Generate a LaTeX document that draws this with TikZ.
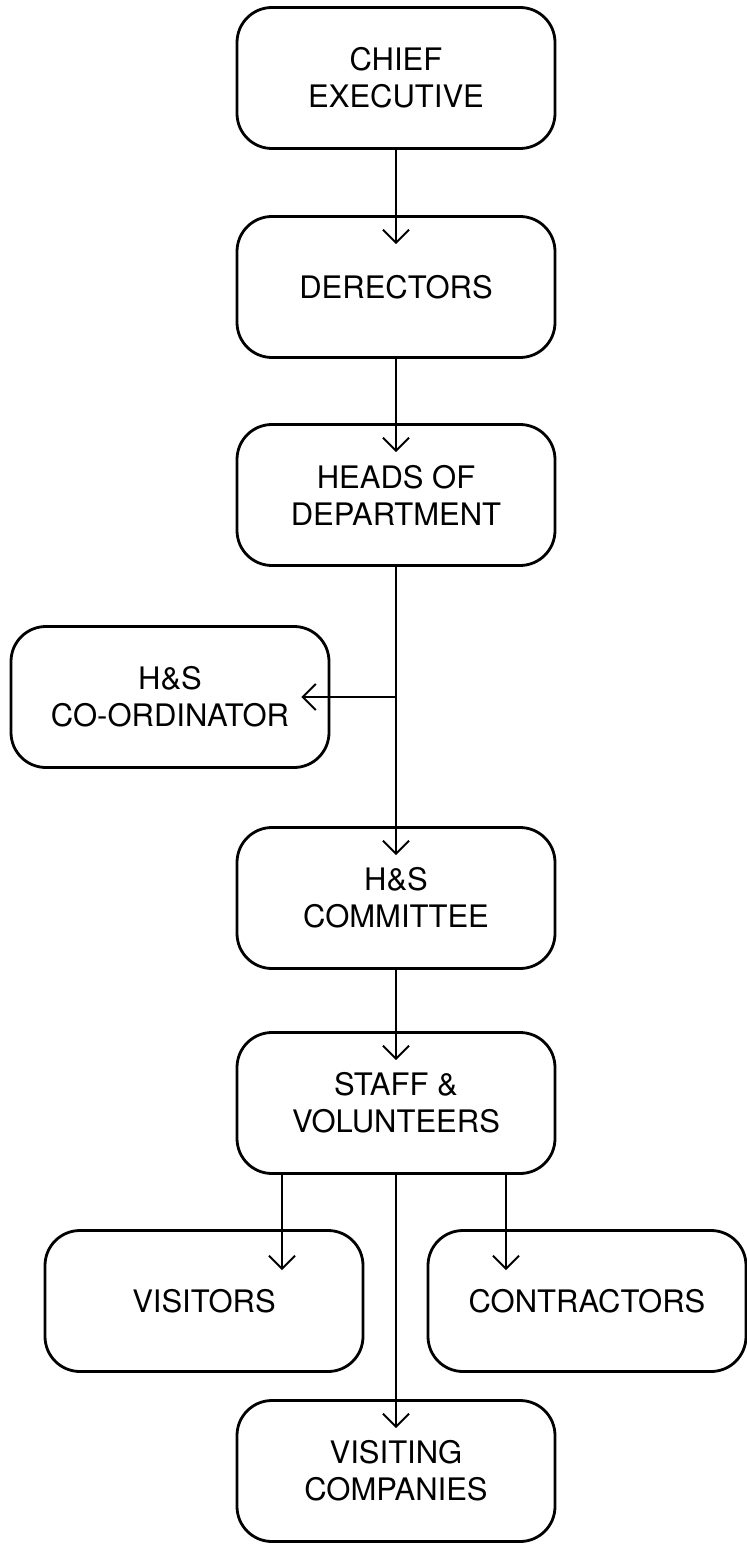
\documentclass[tikz,border=0pt]{standalone}
\usepackage{fontspec}
\setmainfont{TeX Gyre Heros}
\usetikzlibrary{arrows.meta,math}

\begin{document}
\begin{tikzpicture}[x=0.5pt,y=-0.5pt,
    box/.style={draw,line width=1.4pt,rounded corners=17.5pt,minimum width=159pt,minimum height=70.5pt,inner sep=0pt,align=center,font=\fontsize{15.5}{18.5}\selectfont},
    arr/.style={-{Straight Barb[length=6.5pt,width=13pt]},line width=1pt}]
  \tikzmath{\mx = 396; \dep = -14.5; \depb = -20.5;}
  \useasboundingbox (0,0) rectangle (747,1550);
  \node[box] (chief) at (\mx,78) {CHIEF\\EXECUTIVE};
  \node[box] (dir) at (\mx,287) {DERECTORS};
  \node[box] (heads) at (\mx,495) {HEADS OF\\DEPARTMENT};
  \node[box] (coord) at (170,697) {H\&S\\CO-ORDINATOR};
  \node[box] (comm) at (\mx,898) {H\&S\\COMMITTEE};
  \node[box] (staff) at (\mx,1103) {STAFF \&\\VOLUNTEERS};
  \node[box] (visitors) at (204,1301) {VISITORS};
  \node[box] (contr) at (587,1301) {CONTRACTORS};
  \node[box] (visco) at (\mx,1471) {VISITING\\COMPANIES};
  \coordinate (vt) at ([yshift=\depb pt]visitors.north);
  \coordinate (ct) at ([yshift=\depb pt]contr.north);
  \draw[arr] (chief.south) -- ([yshift=\dep pt]dir.north);
  \draw[arr] (dir.south) -- ([yshift=\dep pt]heads.north);
  \draw[arr] (heads.south) -- ([yshift=\dep pt]comm.north);
  \draw[arr] (heads.south |- coord.east) -- ([xshift=\dep pt]coord.east);
  \draw[arr] (comm.south) -- ([yshift=\dep pt]staff.north);
  \draw[arr] (staff.south) -- ([yshift=\dep pt]visco.north);
  \draw[arr] ([xshift=-57pt]staff.south) coordinate (s1) -- (s1 |- vt);
  \draw[arr] ([xshift=55pt]staff.south) coordinate (s2) -- (s2 |- ct);
\end{tikzpicture}
\end{document}
